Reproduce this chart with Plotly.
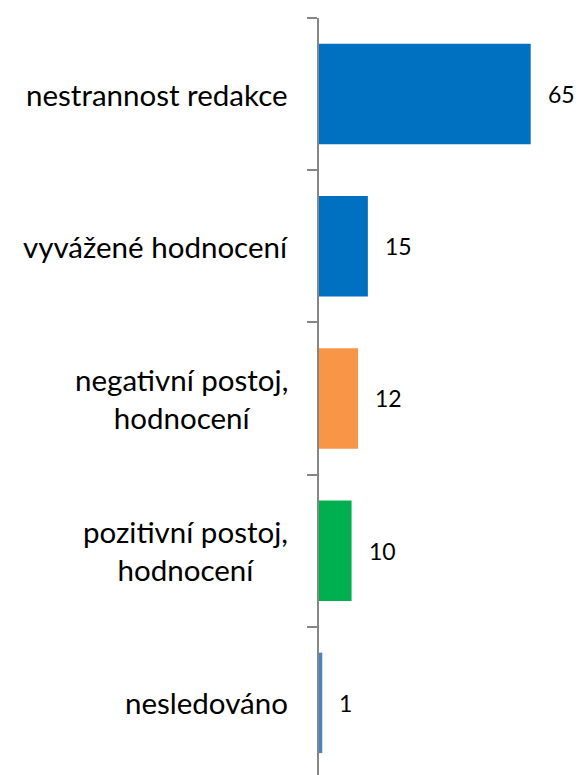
import plotly.graph_objects as go

# ── Dados ─────────────────────────────────────────────────────────────────────
categories = [
    "nestrannost redakce",
    "vyvážené hodnocení",
    "negativní postoj,<br>hodnocení",
    "pozitivní postoj,<br>hodnocení",
    "nesledováno",
]
values = [65, 15, 12, 10, 1]
colors = ["#0070C0", "#0070C0", "#F79646", "#00B050", "#4F81BD"]

FONT = "Lato"

fig = go.Figure()
fig.add_trace(go.Bar(
    x=values, y=list(range(len(categories))),
    orientation="h",
    marker=dict(color=colors, line=dict(width=0)),
    width=0.66,
    hoverinfo="skip",
))

# rótulos de valor
for i, v in enumerate(values):
    fig.add_annotation(
        x=v, y=i, text=str(v), showarrow=False,
        xanchor="left", xshift=15,
        font=dict(family=FONT, size=23, color="#000000"),
    )

# rótulos de categoria (várias linhas, centralizadas)
for i, c in enumerate(categories):
    fig.add_annotation(
        xref="paper", x=0, y=i, text=c, showarrow=False,
        xanchor="right", align="center", xshift=-29,
        font=dict(family=FONT, size=29.5, color="#000000"),
    )

fig.update_layout(
    width=579, height=775,
    margin=dict(l=319, r=32, t=18, b=0),
    paper_bgcolor="#ffffff",
    plot_bgcolor="#ffffff",
    showlegend=False,
    xaxis=dict(range=[0, 70], visible=False, fixedrange=True),
    yaxis=dict(
        range=[4.474, -0.5],
        tickmode="array",
        tickvals=[-0.5, 0.5, 1.5, 2.5, 3.5, 4.5],
        ticktext=[""] * 6,
        ticks="outside", ticklen=10, tickwidth=2, tickcolor="#868686",
        showline=True, linecolor="#868686", linewidth=2,
        showgrid=False, zeroline=False, fixedrange=True,
    ),
)

fig.write_html(
    "out.html",
    config={"displayModeBar": False},
    post_script="document.body.style.margin='0';document.body.style.overflow='hidden';",
)
